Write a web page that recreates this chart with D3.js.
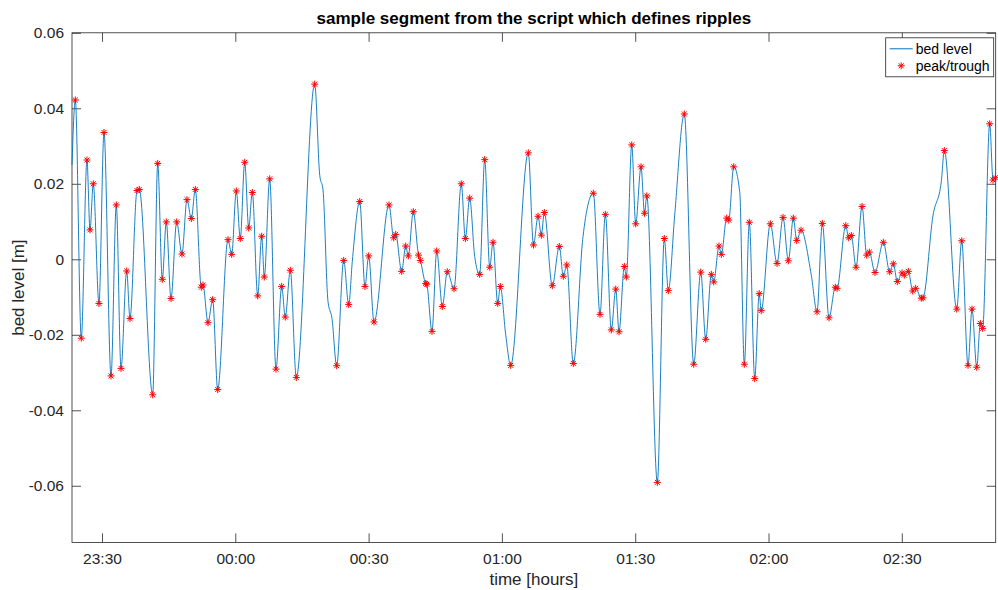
<!DOCTYPE html>
<html>
<head>
<meta charset="utf-8">
<script src="https://cdn.jsdelivr.net/npm/d3@7"></script>
<style>
  body { margin: 0; background: #fff; }
  svg { display: block; font-family: "Liberation Sans", Arial, sans-serif; }
</style>
</head>
<body>
<div id="chart"></div>
<script>
// time in minutes after 23:00, bed level in m (peaks / troughs)
const peakMin = [
  24.0, 25.34, 26.62, 27.30, 28.04, 29.32, 30.45, 32.03, 33.22, 34.28,
  35.56, 36.30, 37.88, 38.39, 41.41, 42.54, 43.57, 44.47, 45.53, 46.81,
  48.00, 49.13, 50.10, 51.00, 52.35, 52.73, 53.86, 54.91, 56.04, 58.36,
  59.19, 60.23, 61.12, 62.12, 63.02, 63.83, 65.04, 65.94, 66.53, 67.74,
  69.16, 70.44, 71.25, 72.38, 73.73, 77.87, 82.82, 84.40, 85.52, 88.00,
  89.19, 90.02, 91.22, 94.59, 95.65, 96.10, 97.45, 98.35, 98.94, 100.06,
  101.23, 101.64, 102.85, 103.08, 104.27, 105.33, 106.59, 107.71, 109.22, 110.86,
  111.77, 112.75, 115.00, 116.13, 117.26, 118.00, 119.06, 119.64, 121.98, 125.94,
  127.11, 128.13, 128.87, 129.55, 131.34, 132.92, 133.82, 134.59, 136.07, 140.57,
  142.08, 143.28, 144.63, 145.62, 146.36, 147.55, 148.00, 149.22, 150.11, 151.31,
  152.10, 152.61, 154.98, 156.55, 157.45, 161.05, 163.17, 164.75, 165.87, 167.13,
  167.67, 168.86, 169.38, 170.59, 171.05, 172.17, 174.56, 175.68, 176.90, 177.91,
  178.36, 180.41, 181.92, 183.27, 184.46, 185.59, 186.35, 187.32, 190.92, 192.11,
  193.62, 195.04, 195.42, 197.38, 198.05, 198.64, 199.70, 201.05, 202.10, 202.69,
  203.97, 205.84, 207.28, 208.09, 208.99, 210.05, 210.56, 211.47, 212.46, 213.13,
  214.39, 214.77, 219.57, 222.36, 223.48, 224.90, 225.80, 226.86, 227.67, 228.20,
  229.78, 230.53, 231.04
];
const peakLevel = [
  0.0422, -0.0209, 0.0263, 0.0078, 0.0200, -0.0117, 0.0336, -0.0309, 0.0144, -0.0289,
  -0.0031, -0.0157, 0.0182, 0.0185, -0.0359, 0.0254, -0.0053, 0.0099, -0.0104, 0.0099,
  0.0014, 0.0158, 0.0108, 0.0185, -0.0074, -0.0068, -0.0168, -0.0107, -0.0345, 0.0052,
  0.0013, 0.0181, 0.0055, 0.0257, 0.0083, 0.0177, -0.0097, 0.0061, -0.0047, 0.0213,
  -0.0291, -0.0072, -0.0153, -0.0029, -0.0313, 0.0464, -0.0282, -0.0003, -0.0120, 0.0153,
  -0.0072, 0.0009, -0.0166, 0.0144, 0.0057, 0.0066, -0.0032, 0.0035, 0.0009, 0.0126,
  0.0011, -0.0003, -0.0064, -0.0066, -0.0191, 0.0022, -0.0125, -0.0033, -0.0078, 0.0200,
  0.0055, 0.0162, -0.0040, 0.0264, -0.0021, 0.0045, -0.0117, -0.0072, -0.0281, 0.0282,
  0.0038, 0.0114, 0.0064, 0.0124, -0.0070, 0.0034, -0.0045, -0.0015, -0.0276, 0.0175,
  -0.0146, 0.0119, -0.0187, -0.0079, -0.0192, -0.0019, -0.0047, 0.0303, 0.0094, 0.0245,
  0.0122, 0.0168, -0.0591, 0.0055, -0.0083, 0.0385, -0.0278, -0.0034, -0.0212, -0.0040,
  -0.0060, 0.0035, 0.0013, 0.0109, 0.0104, 0.0245, -0.0278, 0.0098, -0.0316, -0.0091,
  -0.0136, 0.0094, -0.0011, 0.0111, -0.0004, 0.0109, 0.0050, 0.0077, -0.0139, 0.0095,
  -0.0155, -0.0074, -0.0077, 0.0089, 0.0057, 0.0063, -0.0021, 0.0140, 0.0011, 0.0019,
  -0.0035, 0.0045, -0.0033, -0.0012, -0.0059, -0.0036, -0.0042, -0.0032, -0.0084, -0.0077,
  -0.0103, -0.0102, 0.0288, -0.0132, 0.0049, -0.0281, -0.0132, -0.0286, -0.0170, -0.0183,
  0.0359, 0.0210, 0.0216
];
// extra points of the bed level trace that are not flagged (start, shoulders)
const traceMin = [23.25, 79.00, 79.74, 80.86, 81.76, 86.33, 113.88, 120.86, 138.25, 158.89, 173.52, 189.63, 217.03, 218.89];
const traceLevel = [0.025, 0.0223, 0.0184, -0.0112, -0.0157, -0.0006, 0.0007, -0.0200, 0.0060, 0.0117, 0.0179, -0.0042, 0.0117, 0.0206];

const xDomainMin = [23.25, 231.13];
const yDomain = [-0.075, 0.06];
const yTicks = [-0.06, -0.04, -0.02, 0, 0.02, 0.04, 0.06];
const xTickMin = [30, 60, 90, 120, 150, 180, 210];
const legendLabels = ["bed level", "peak/trough"];

const W = 998, H = 590;
const margin = { left: 72, right: 2.3, top: 32.8, bottom: 47.6 };
const width = W - margin.left - margin.right;
const height = H - margin.top - margin.bottom;

const t0 = new Date(2000, 0, 1, 23, 0, 0);
const toDate = m => new Date(t0.getTime() + m * 60000);

const svg = d3.select("#chart").append("svg")
    .attr("width", W)
    .attr("height", H);

const g = svg.append("g")
    .attr("transform", `translate(${margin.left},${margin.top})`);

const x = d3.scaleTime()
    .domain(xDomainMin.map(toDate))
    .range([0, width]);

const y = d3.scaleLinear()
    .domain(yDomain)
    .range([height, 0]);

const axisColor = "#262626";
const lineColor = "#0072BD";
const tickLen = 9;

// axes with inward ticks on all four sides (box on)
const xAxisB = g.append("g")
    .attr("transform", `translate(0,${height})`)
    .call(d3.axisBottom(x)
        .tickValues(xTickMin.map(toDate))
        .tickFormat(d3.timeFormat("%H:%M"))
        .tickSizeInner(-tickLen).tickSizeOuter(0).tickPadding(11));
const xAxisT = g.append("g")
    .call(d3.axisTop(x)
        .tickValues(xTickMin.map(toDate))
        .tickFormat("")
        .tickSizeInner(-tickLen).tickSizeOuter(0));
const yAxisL = g.append("g")
    .call(d3.axisLeft(y)
        .tickValues(yTicks)
        .tickFormat(d => d === 0 ? "0" : d.toFixed(2))
        .tickSizeInner(-tickLen).tickSizeOuter(0).tickPadding(8));
const yAxisR = g.append("g")
    .attr("transform", `translate(${width},0)`)
    .call(d3.axisRight(y)
        .tickValues(yTicks)
        .tickFormat("")
        .tickSizeInner(-tickLen).tickSizeOuter(0));

[xAxisB, xAxisT, yAxisL, yAxisR].forEach(a => {
    a.select(".domain").remove();
    a.selectAll("line").attr("stroke", axisColor).attr("stroke-width", 0.8);
    a.selectAll("text")
        .attr("fill", axisColor)
        .style("font-size", "15.5px")
        .style("font-family", "'Liberation Sans', Arial, sans-serif");
});

// frame
g.append("rect")
    .attr("width", width)
    .attr("height", height)
    .attr("fill", "none")
    .attr("stroke", axisColor)
    .attr("stroke-width", 0.8);

// bed level trace
const trace = peakMin.map((m, i) => ({ t: m, v: peakLevel[i] }))
    .concat(traceMin.map((m, i) => ({ t: m, v: traceLevel[i] })))
    .sort((a, b) => a.t - b.t);

g.append("path")
    .datum(trace)
    .attr("fill", "none")
    .attr("stroke", lineColor)
    .attr("stroke-width", 0.9)
    .attr("d", d3.line()
        .x(d => x(toDate(d.t)))
        .y(d => y(d.v))
        .curve(d3.curveMonotoneX));

// asterisk markers
const starPath = (s) => {
    const d = s * 0.7071;
    return `M0,${-s}V${s}M${-s},0H${s}M${-d},${-d}L${d},${d}M${-d},${d}L${d},${-d}`;
};

g.append("g").selectAll("path")
    .data(peakMin.map((m, i) => ({ t: m, v: peakLevel[i] })))
    .join("path")
    .attr("transform", d => `translate(${x(toDate(d.t))},${y(d.v)})`)
    .attr("d", starPath(3.5))
    .attr("stroke", "#ff0000")
    .attr("stroke-width", 1)
    .attr("fill", "none");

// title
svg.append("text")
    .attr("x", margin.left + width / 2)
    .attr("y", 24)
    .attr("text-anchor", "middle")
    .style("font-size", "17px")
    .style("font-weight", "bold")
    .attr("fill", "#000")
    .text("sample segment from the script which defines ripples");

// axis labels
svg.append("text")
    .attr("x", margin.left + width / 2)
    .attr("y", 585)
    .attr("text-anchor", "middle")
    .style("font-size", "17px")
    .attr("fill", axisColor)
    .text("time [hours]");

svg.append("text")
    .attr("transform", `translate(24,${margin.top + height / 2}) rotate(-90)`)
    .attr("text-anchor", "middle")
    .style("font-size", "17px")
    .attr("fill", axisColor)
    .text("bed level [m]");

// legend
const legend = g.append("g")
    .attr("transform", `translate(${width - 110},5)`);

legend.append("rect")
    .attr("width", 108)
    .attr("height", 39)
    .attr("fill", "#fff")
    .attr("stroke", axisColor)
    .attr("stroke-width", 0.8);

legend.append("line")
    .attr("x1", 4).attr("x2", 27)
    .attr("y1", 11).attr("y2", 11)
    .attr("stroke", lineColor)
    .attr("stroke-width", 1);

legend.append("path")
    .attr("transform", "translate(15.5,28)")
    .attr("d", starPath(3.5))
    .attr("stroke", "#ff0000")
    .attr("fill", "none");

legend.selectAll("text.lab")
    .data(legendLabels)
    .join("text")
    .attr("class", "lab")
    .attr("x", 30)
    .attr("y", (d, i) => 11 + i * 17)
    .attr("dy", "0.35em")
    .style("font-size", "14px")
    .attr("fill", "#000")
    .text(d => d);
</script>
</body>
</html>
